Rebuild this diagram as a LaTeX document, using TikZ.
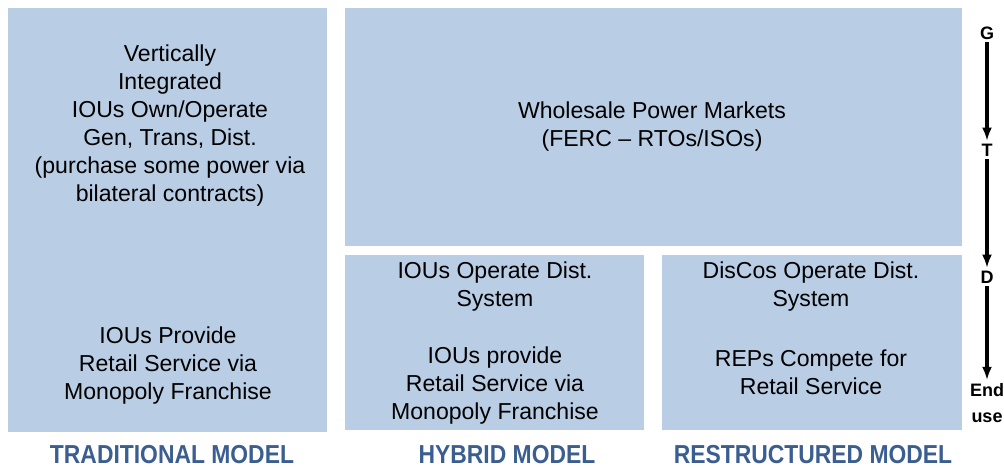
\documentclass[tikz,border=0pt]{standalone}
\usepackage{fontspec}
\setmainfont{Liberation Sans}
\newfontfamily\modelfont[FakeStretch=0.88]{Liberation Sans Bold}
\usetikzlibrary{arrows.meta}
\definecolor{boxblue}{RGB}{185,205,229}
\definecolor{modelblue}{RGB}{59,94,145}
\begin{document}
\begin{tikzpicture}[x=0.75pt,y=-0.75pt,
  panel/.style={fill=boxblue,draw=none,inner sep=0pt},
  txt/.style={align=center,font=\fontsize{17.3}{21}\selectfont,inner sep=0pt},
  model/.style={font=\modelfont\fontsize{19.5}{22}\selectfont,text=modelblue,inner sep=0pt},
  stage/.style={font=\bfseries\fontsize{13.5}{15}\selectfont,align=center,inner sep=2pt},
  flow/.style={-{Latex[length=10pt,width=7.5pt]},line width=2.4pt}]

  \useasboundingbox (0,0) rectangle (1004,469);

  % panels
  \fill[boxblue] (8,8) rectangle (327,432) coordinate (trad);
  \fill[boxblue] (345,8) rectangle (962,246) coordinate (whole);
  \fill[boxblue] (345,255) rectangle (644,430) coordinate (hyb);
  \fill[boxblue] (662,255) rectangle (962,430) coordinate (restr);

  % panel texts
  \begin{scope}[every node/.style={txt}]
    \node (vert) at (170,126) {Vertically\\Integrated\\IOUs Own/Operate\\Gen, Trans, Dist.\\(purchase some power via\\bilateral contracts)};
    \node (tradret) at (168,366) {IOUs Provide\\Retail Service via\\Monopoly Franchise};
    \node (wpm) at (652,127) {Wholesale Power Markets\\(FERC -- RTOs/ISOs)};
    \node (hybdist) at (495,287) {IOUs Operate Dist.\\System};
    \node (hybret) at (495,386) {IOUs provide\\Retail Service via\\Monopoly Franchise};
    \node (resdist) at (811,287) {DisCos Operate Dist.\\System};
    \node (resret) at (811,372) {REPs Compete for\\Retail Service};
  \end{scope}

  % model names
  \node[model] (tradname) at (172,455) {TRADITIONAL MODEL};
  \node[model] (hybname) at (507,455) {HYBRID MODEL};
  \node[model] (resname) at (813,455) {RESTRUCTURED MODEL};

  % supply chain
  \node[stage] (g) at (987,33) {G};
  \node[stage] (t) at (987,150) {T};
  \node[stage] (d) at (987,277) {D};
  \node[stage,font=\bfseries\fontsize{13.5}{20}\selectfont] (enduse) at (987,403) {End\\use};

  \draw[flow] (g) -- (t);
  \draw[flow] (t) -- (d);
  \draw[flow] (d) -- (enduse);

\end{tikzpicture}
\end{document}
